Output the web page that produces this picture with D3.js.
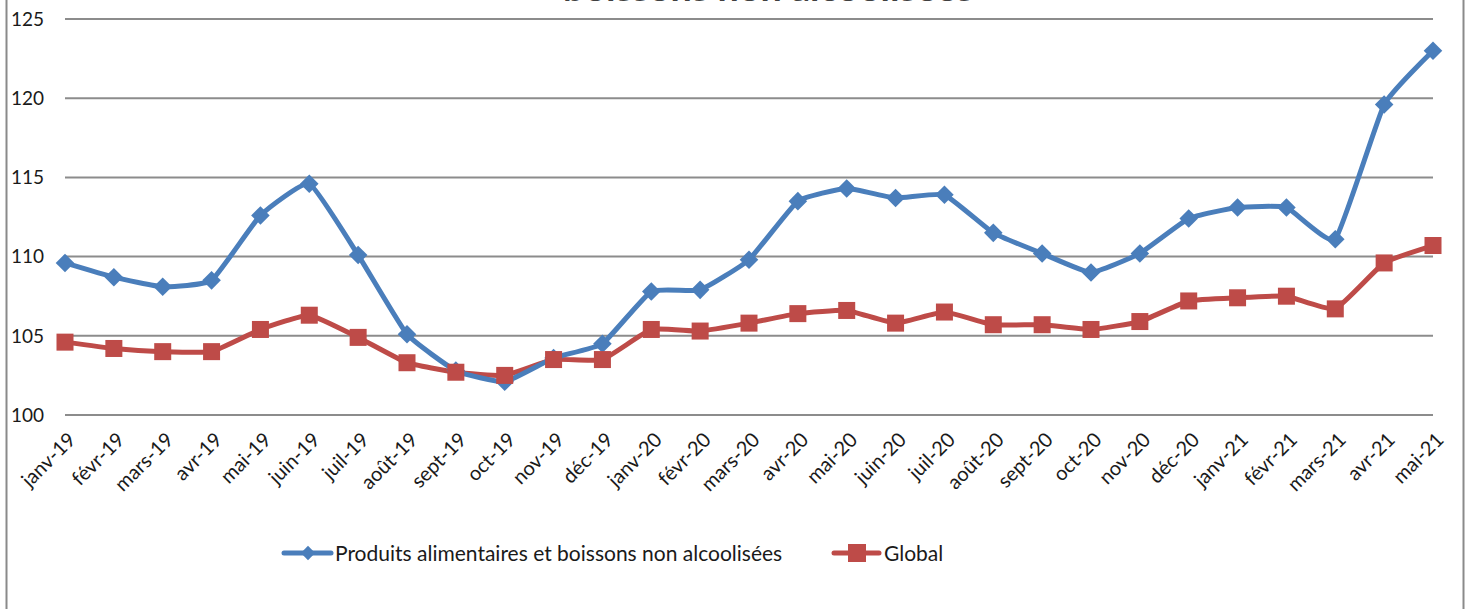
<!DOCTYPE html>
<html>
<head>
<meta charset="utf-8">
<script src="https://cdn.jsdelivr.net/npm/d3@7"></script>
<style>
body { margin:0; background:#fff; }
text { font-family: Lato, "Open Sans", sans-serif; fill:#1a1a1a; }
</style>
</head>
<body>
<script>
var months = ["janv-19","févr-19","mars-19","avr-19","mai-19","juin-19","juil-19","août-19","sept-19","oct-19","nov-19","déc-19",
	"janv-20","févr-20","mars-20","avr-20","mai-20","juin-20","juil-20","août-20","sept-20","oct-20","nov-20","déc-20",
	"janv-21","févr-21","mars-21","avr-21","mai-21"];
var food = [109.6,108.7,108.1,108.5,112.6,114.6,110.1,105.1,102.8,102.1,103.6,104.5,
	107.8,107.9,109.8,113.5,114.3,113.7,113.9,111.5,110.2,109.0,110.2,112.4,
	113.1,113.1,111.1,119.6,123.0];
var global = [104.6,104.2,104.0,104.0,105.4,106.3,104.9,103.3,102.7,102.5,103.5,103.5,
	105.4,105.3,105.8,106.4,106.6,105.8,106.5,105.7,105.7,105.4,105.9,107.2,
	107.4,107.5,106.7,109.6,110.7];
var yTicks = [100,105,110,115,120,125];
var seriesNames = ["Produits alimentaires et boissons non alcoolisées","Global"];

var blue = "#4a7ebb", red = "#be4b48";

var svg = d3.select("body").append("svg")
	.attr("width",1470)
	.attr("height",609);

// chart frame (cut at top and bottom in the original)
svg.append("rect")
	.attr("x",6.5).attr("y",-20)
	.attr("width",1457).attr("height",660)
	.attr("fill","none")
	.attr("stroke","#8a8a8a")
	.attr("stroke-width",2);

// title, only the bottom of the second line shows
svg.append("text")
	.attr("x",768).attr("y",1)
	.attr("text-anchor","middle")
	.attr("textLength",410)
	.attr("lengthAdjust","spacingAndGlyphs")
	.style("font-size","32px")
	.style("font-weight","bold")
	.style("fill","#404040")
	.text("boissons non alcoolisées");

var x = d3.scalePoint()
	.domain(months)
	.range([65,1433]);
var y = d3.scaleLinear()
	.domain([100,125])
	.range([415,19]);

// grid
svg.selectAll("line.grid")
	.data(yTicks)
	.enter().append("line")
		.attr("class","grid")
		.attr("x1",65).attr("x2",1433)
		.attr("y1",function(d){ return y(d); })
		.attr("y2",function(d){ return y(d); })
		.attr("stroke","#8c8c8c")
		.attr("stroke-width",2);

svg.selectAll("text.ylab")
	.data(yTicks)
	.enter().append("text")
		.attr("class","ylab")
		.attr("x",44)
		.attr("y",function(d){ return y(d); })
		.attr("dy","0.36em")
		.attr("text-anchor","end")
		.style("font-size","19px")
		.text(function(d){ return d; });

svg.selectAll("text.xlab")
	.data(months)
	.enter().append("text")
		.attr("class","xlab")
		.attr("transform",function(d){ return "translate(" + (x(d)+7) + ",436) rotate(-45)"; })
		.attr("dy","0.35em")
		.attr("text-anchor","end")
		.style("font-size","20px")
		.text(function(d){ return d; });

var line = d3.line()
	.x(function(d,i){ return x(months[i]); })
	.y(function(d){ return y(d); })
	.curve(d3.curveCardinal.tension(0.6));

var diamond = d3.symbol().type(d3.symbolDiamond2).size(220);

// global series
svg.append("path")
	.datum(global)
	.attr("d",line)
	.attr("fill","none")
	.attr("stroke",red)
	.attr("stroke-width",5)
	.attr("stroke-linejoin","round");

// food series
svg.append("path")
	.datum(food)
	.attr("d",line)
	.attr("fill","none")
	.attr("stroke",blue)
	.attr("stroke-width",5)
	.attr("stroke-linejoin","round");

svg.selectAll("path.dia")
	.data(food)
	.enter().append("path")
		.attr("class","dia")
		.attr("transform",function(d,i){ return "translate(" + x(months[i]) + "," + y(d) + ")"; })
		.attr("d",diamond)
		.attr("fill",blue);

svg.selectAll("rect.sq")
	.data(global)
	.enter().append("rect")
		.attr("class","sq")
		.attr("x",function(d,i){ return x(months[i]) - 8.5; })
		.attr("y",function(d){ return y(d) - 8.5; })
		.attr("width",17).attr("height",17)
		.attr("fill",red);

// legend
var ly = 553;
svg.append("line")
	.attr("x1",284).attr("x2",331).attr("y1",ly).attr("y2",ly)
	.attr("stroke",blue).attr("stroke-width",5).attr("stroke-linecap","round");
svg.append("path")
	.attr("transform","translate(308," + ly + ")")
	.attr("d",d3.symbol().type(d3.symbolDiamond2).size(130))
	.attr("fill",blue);
svg.append("text")
	.attr("x",335).attr("y",ly).attr("dy","0.36em")
	.style("font-size","21px")
	.text(seriesNames[0]);

svg.append("line")
	.attr("x1",834).attr("x2",879).attr("y1",ly).attr("y2",ly)
	.attr("stroke",red).attr("stroke-width",5).attr("stroke-linecap","round");
svg.append("rect")
	.attr("x",848).attr("y",ly-9).attr("width",18).attr("height",18)
	.attr("fill",red);
svg.append("text")
	.attr("x",884).attr("y",ly).attr("dy","0.36em")
	.style("font-size","21px")
	.text(seriesNames[1]);
</script>
</body>
</html>
